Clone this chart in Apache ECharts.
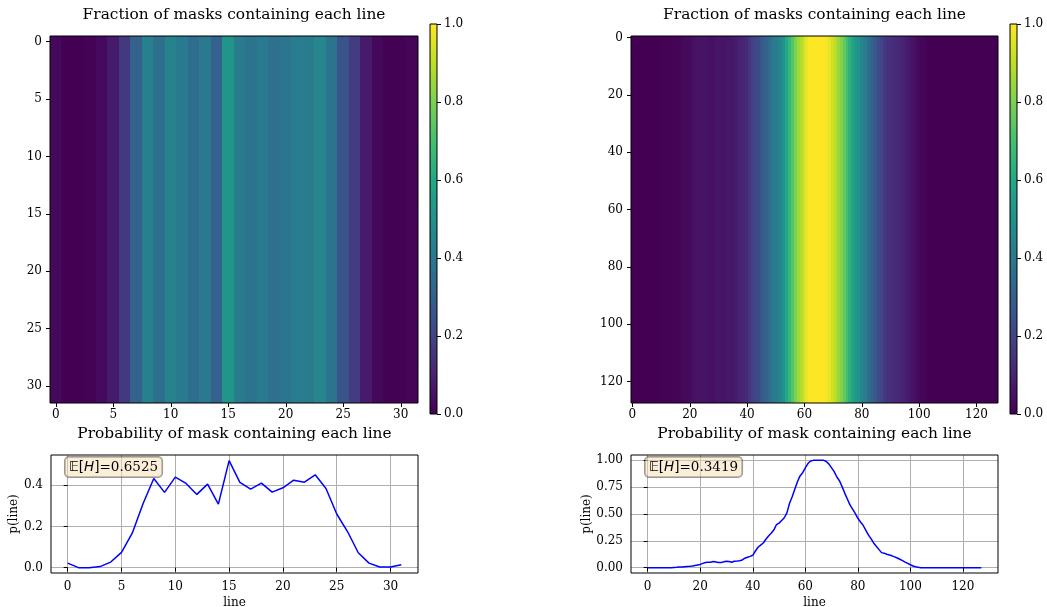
<!DOCTYPE html>
<html><head><meta charset="utf-8">
<script src="https://cdn.jsdelivr.net/npm/echarts@6/dist/echarts.min.js"></script>
<style>html,body{margin:0;padding:0;background:#fff}#c{width:1047px;height:607px}</style>
</head><body><div id="c"></div>
<script>
// ---- data ----
const leftLines = Array.from({length: 32}, (_, i) => String(i));
const rightLines = Array.from({length: 128}, (_, i) => String(i));
const leftProb = [0.022,0.0,0.0,0.005,0.027,0.074,0.167,0.31,0.432,0.365,0.439,0.408,0.355,0.405,0.308,0.519,
  0.413,0.381,0.41,0.366,0.387,0.424,0.414,0.45,0.384,0.26,0.175,0.072,0.022,0.003,0.003,0.014];
const rightProb = [0,0,0,0,0,0,0,0,0,0,
  0.002,0.003,0.005,0.006,0.008,0.01,0.012,0.015,0.02,0.025,
  0.03,0.04,0.048,0.05,0.05,0.057,0.052,0.047,0.047,0.055,
  0.06,0.058,0.05,0.06,0.062,0.065,0.072,0.088,0.097,0.105,
  0.115,0.155,0.19,0.21,0.23,0.265,0.295,0.32,0.35,0.4,
  0.415,0.44,0.465,0.51,0.6,0.66,0.73,0.8,0.855,0.885,
  0.93,0.97,0.995,1,1,1,1,1,0.99,0.965,
  0.93,0.895,0.845,0.81,0.755,0.695,0.64,0.585,0.545,0.505,
  0.46,0.425,0.395,0.35,0.305,0.27,0.23,0.2,0.17,0.14,
  0.135,0.125,0.118,0.11,0.1,0.09,0.078,0.065,0.052,0.04,
  0.027,0.015,0.008,0.003,
  0,0,0,0,0,0,0,0,0,0,0,0,0,0,0,0,0,0,0,0,0,0,0,0];
const leftEH = '0.6525';
const rightEH = '0.3419';
const heatTitle = 'Fraction of masks containing each line';
const lineTitle = 'Probability of mask containing each line';
const leftXTicks = [0, 5, 10, 15, 20, 25, 30];
const rightXTicks = [0, 20, 40, 60, 80, 100, 120];
const leftYTicks = [0, 0.2, 0.4];
const rightYTicks = [0, 0.25, 0.5, 0.75, 1];
const cbTicks = [0, 0.2, 0.4, 0.6, 0.8, 1];
const viridis = ['#440154','#482475','#414487','#355f8d','#2a788e','#21918c','#22a884','#44bf70','#7ad151','#bddf26','#fde725'];

// ---- layout (px) ----
const HL = {left: 50, top: 36, width: 368, height: 367};
const HR = {left: 631, top: 36, width: 367, height: 367};
const CL = {left: 430, top: 24, width: 7, height: 390};
const CR = {left: 1010, top: 24, width: 7, height: 390};
const LL = {left: 51, top: 455, width: 367, height: 118};
const LR = {left: 631, top: 455, width: 367, height: 118};

const FONT = 'DejaVu Serif';
const tickFont = {fontFamily: FONT, fontSize: 12, color: '#000'};

function colData(vals) { return vals.map((v, i) => [i, 0, v]); }
function lineData(vals) { return vals.map((v, i) => [i, v]); }

function renderColumn(params, api) {
  const c = api.coord([api.value(0), 0]);
  const w = api.size([1, 0])[0];
  const cs = params.coordSys;
  let x0 = Math.max(cs.x, Math.floor(c[0] - w / 2));
  let x1 = Math.min(cs.x + cs.width, Math.ceil(c[0] + w / 2));
  return {type: 'rect', shape: {x: x0, y: cs.y, width: x1 - x0, height: cs.height},
    style: {fill: api.visual('color')}};
}

const catAxis = (data, gi, every, isY) => ({
  type: 'category', gridIndex: gi, data: data, inverse: !!isY,
  axisLine: {show: false},
  axisTick: {show: true, alignWithLabel: true, interval: every - 1, length: 4, lineStyle: {color: '#000'}},
  axisLabel: Object.assign({interval: every - 1, margin: isY ? 8 : 6}, tickFont),
  splitLine: {show: false}, z: 10
});

const valAxis = (gi, min, max, ticks, dec, pos) => ({
  type: 'value', gridIndex: gi, min: min, max: max, position: pos,
  axisLine: {show: false},
  axisTick: {show: true, length: 4, lineStyle: {color: '#000'}, customValues: ticks},
  axisLabel: Object.assign({margin: 8, customValues: ticks, formatter: v => v.toFixed(dec)}, tickFont),
  splitLine: {show: true, lineStyle: {color: '#b0b0b0', width: 1}}
});

const frames = [HL, HR, CL, CR, LL, LR].map(g => ({
  type: 'rect', z: 100, silent: true,
  shape: {x: g.left, y: g.top, width: g.width, height: g.height},
  style: {fill: 'none', stroke: '#000', lineWidth: 1}
}));

const titleTexts = [
  [HL.left + HL.width / 2, 15, heatTitle],
  [HR.left + HR.width / 2, 15, heatTitle],
  [LL.left + LL.width / 2, 434, lineTitle],
  [LR.left + LR.width / 2, 434, lineTitle]
].map(t => ({
  type: 'text', x: t[0], y: t[1], z: 100,
  style: {text: t[2], textAlign: 'center', textVerticalAlign: 'middle', font: '15.4px "DejaVu Serif"', fill: '#000'}
}));

const boxText = (g, eh) => ({
  type: 'text', x: g.left + 14, y: g.top + 2, z: 101,
  style: {
    text: '{m|𝔼[}{it|H}{m|]}{s|=' + eh + '}',
    backgroundColor: 'rgba(245,222,179,0.5)', borderColor: 'rgba(0,0,0,0.4)', borderWidth: 1,
    borderRadius: 4, padding: [3, 4, 3, 4],
    rich: {
      m: {fontFamily: 'DejaVu Sans', fontSize: 13.5, color: '#000'},
      it: {fontFamily: 'DejaVu Sans', fontStyle: 'italic', fontSize: 13.5, color: '#000'},
      s: {fontFamily: FONT, fontSize: 13.5, color: '#000'}
    }
  }
});

const nameStyle = {fontFamily: FONT, fontSize: 12, color: '#000'};
const cbAxis = gi => ({
  type: 'value', gridIndex: gi, min: 0, max: 1, position: 'right',
  axisLine: {show: false}, splitLine: {show: false},
  axisTick: {show: true, length: 4, lineStyle: {color: '#000'}, customValues: cbTicks},
  axisLabel: Object.assign({margin: 7, customValues: cbTicks, formatter: v => v.toFixed(1)}, tickFont)
});
const cbGradient = () => new echarts.graphic.LinearGradient(0, 0, 0, 1,
  viridis.slice().reverse().map((c, i) => ({offset: i / (viridis.length - 1), color: c})));

const option = {
  animation: false,
  backgroundColor: '#fff',
  grid: [HL, HR, CL, CR, LL, LR].map(g => Object.assign({show: false, containLabel: false, outerBoundsMode: 'none'}, g)),
  visualMap: {type: 'continuous', min: 0, max: 1, show: false, dimension: 2, seriesIndex: [0, 1], inRange: {color: viridis}},
  xAxis: [
    catAxis(leftLines, 0, 5, false),
    catAxis(rightLines, 1, 20, false),
    {type: 'category', gridIndex: 2, data: ['c'], show: false},
    {type: 'category', gridIndex: 3, data: ['c'], show: false},
    Object.assign(valAxis(4, -1.55, 32.55, leftXTicks, 0, 'bottom'), {name: 'line', nameLocation: 'middle', nameGap: 24, nameTextStyle: nameStyle}),
    Object.assign(valAxis(5, -6.35, 133.35, rightXTicks, 0, 'bottom'), {name: 'line', nameLocation: 'middle', nameGap: 24, nameTextStyle: nameStyle})
  ],
  yAxis: [
    catAxis(leftLines, 0, 5, true),
    catAxis(rightLines, 1, 20, true),
    cbAxis(2),
    cbAxis(3),
    Object.assign(valAxis(4, -0.026, 0.546, leftYTicks, 1, 'left'), {name: 'p(line)', nameLocation: 'middle', nameGap: 28, nameRotate: 90, nameTextStyle: nameStyle}),
    Object.assign(valAxis(5, -0.05, 1.05, rightYTicks, 2, 'left'), {name: 'p(line)', nameLocation: 'middle', nameGap: 33, nameRotate: 90, nameTextStyle: nameStyle})
  ],
  series: [
    {type: 'custom', xAxisIndex: 0, yAxisIndex: 0, data: colData(leftProb), encode: {x: 0, y: 1}, renderItem: renderColumn, silent: true},
    {type: 'custom', xAxisIndex: 1, yAxisIndex: 1, data: colData(rightProb), encode: {x: 0, y: 1}, renderItem: renderColumn, silent: true},
    {type: 'bar', xAxisIndex: 2, yAxisIndex: 2, data: [1], barWidth: '100%', silent: true, itemStyle: {color: cbGradient()}},
    {type: 'bar', xAxisIndex: 3, yAxisIndex: 3, data: [1], barWidth: '100%', silent: true, itemStyle: {color: cbGradient()}},
    {type: 'line', xAxisIndex: 4, yAxisIndex: 4, data: lineData(leftProb), symbol: 'none', clip: true,
      lineStyle: {color: '#0000ff', width: 1.5}},
    {type: 'line', xAxisIndex: 5, yAxisIndex: 5, data: lineData(rightProb), symbol: 'none', clip: true,
      lineStyle: {color: '#0000ff', width: 1.5}}
  ],
  graphic: frames.concat(titleTexts, [boxText(LL, leftEH), boxText(LR, rightEH)])
};

const chart = echarts.init(document.getElementById('c'), null, {renderer: 'canvas'});
chart.setOption(option);
</script>
</body></html>
